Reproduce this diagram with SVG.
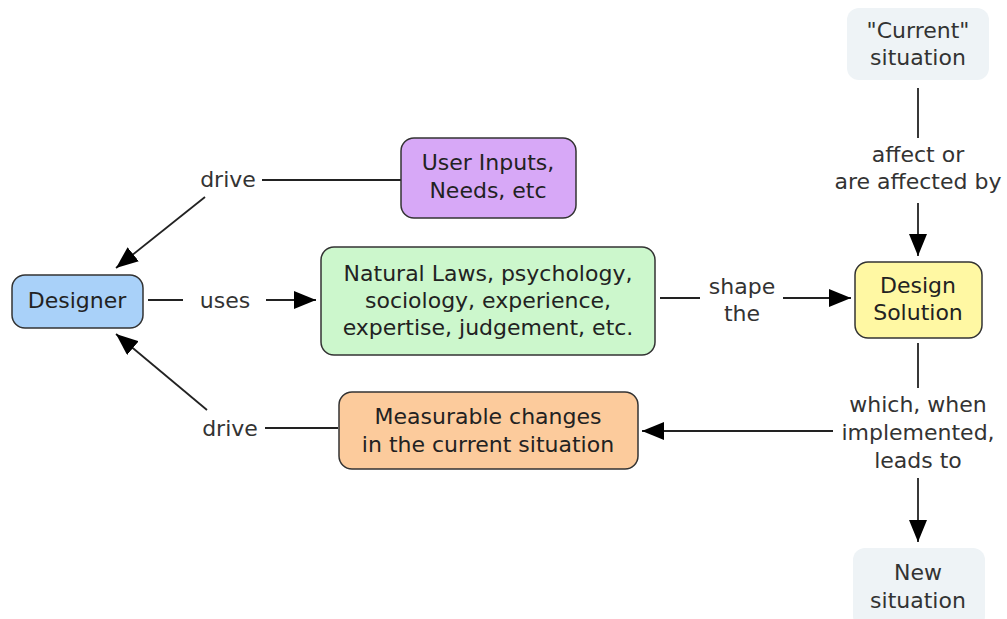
<svg xmlns="http://www.w3.org/2000/svg" width="1007" height="619" viewBox="0 0 1007 619">
  <style>
    .node { stroke: #333; stroke-width: 1.5; }
    .plain { stroke: none; fill: #eef3f6; }
    text { font-family: "DejaVu Sans", Verdana, sans-serif; font-size: 22px; text-anchor: middle; fill: #222; }
    .lbl { fill: #333; }
    .link { stroke: #222; stroke-width: 1.8; fill: none; }
  </style>
  <defs>
    <marker id="arrow" viewBox="0 0 22 18" refX="22" refY="9" markerWidth="22" markerHeight="18" markerUnits="userSpaceOnUse" orient="auto">
      <path d="M0,0 L22,9 L0,18 Z" fill="#000"/>
    </marker>
  </defs>
  <rect width="1007" height="619" fill="#fff"/>

  <g id="connectors">
    <!-- User Inputs -> drive -> Designer -->
    <line class="link" x1="401" y1="180" x2="262" y2="180"/>
    <text class="lbl" x="228" y="187">drive</text>
    <line class="link" x1="205" y1="197" x2="116" y2="268" marker-end="url(#arrow)"/>
    <!-- Designer -> uses -> Natural Laws -->
    <line class="link" x1="148" y1="300" x2="183" y2="300"/>
    <text class="lbl" x="225" y="308">uses</text>
    <line class="link" x1="266" y1="300" x2="316" y2="300" marker-end="url(#arrow)"/>
    <!-- Natural Laws -> shape the -> Design Solution -->
    <line class="link" x1="660" y1="298" x2="700" y2="298"/>
    <text class="lbl" x="742" y="294">shape</text>
    <text class="lbl" x="742" y="321">the</text>
    <line class="link" x1="783" y1="298" x2="851" y2="298" marker-end="url(#arrow)"/>
    <!-- Current situation -> affect or are affected by -> Design Solution -->
    <line class="link" x1="918" y1="88" x2="918" y2="138"/>
    <text class="lbl" x="918" y="162">affect or</text>
    <text class="lbl" x="918" y="189">are affected by</text>
    <line class="link" x1="918" y1="203" x2="918" y2="256" marker-end="url(#arrow)"/>
    <!-- Design Solution -> which, when implemented, leads to -->
    <line class="link" x1="918" y1="343" x2="918" y2="388"/>
    <text class="lbl" x="918" y="412">which, when</text>
    <text class="lbl" x="918" y="440">implemented,</text>
    <text class="lbl" x="918" y="468">leads to</text>
    <line class="link" x1="918" y1="478" x2="918" y2="542" marker-end="url(#arrow)"/>
    <line class="link" x1="833" y1="431" x2="642" y2="431" marker-end="url(#arrow)"/>
    <!-- Measurable changes -> drive -> Designer -->
    <line class="link" x1="338" y1="428" x2="265" y2="428"/>
    <text class="lbl" x="230" y="436">drive</text>
    <line class="link" x1="207" y1="410" x2="116" y2="334" marker-end="url(#arrow)"/>
  </g>

  <g id="designer">
    <rect class="node" x="12" y="275" width="131" height="53" rx="13" fill="#a9d1f9"/>
    <text x="77" y="308">Designer</text>
  </g>

  <g id="user-inputs">
    <rect class="node" x="401" y="138" width="175" height="80" rx="13" fill="#d7a8f7"/>
    <text x="488" y="170">User Inputs,</text>
    <text x="488" y="198">Needs, etc</text>
  </g>

  <g id="natural-laws">
    <rect class="node" x="321" y="247" width="334" height="108" rx="13" fill="#ccf7cc"/>
    <text x="488" y="281">Natural Laws, psychology,</text>
    <text x="488" y="308">sociology, experience,</text>
    <text x="488" y="335">expertise, judgement, etc.</text>
  </g>

  <g id="design-solution">
    <rect class="node" x="855" y="262" width="127" height="76" rx="13" fill="#fff8a3"/>
    <text x="918" y="293">Design</text>
    <text x="918" y="320">Solution</text>
  </g>

  <g id="measurable-changes">
    <rect class="node" x="339" y="392" width="299" height="77" rx="13" fill="#fccb9c"/>
    <text x="488" y="424">Measurable changes</text>
    <text x="488" y="452">in the current situation</text>
  </g>

  <g id="current-situation">
    <rect class="plain" x="847" y="8" width="142" height="72" rx="12"/>
    <text class="lbl" x="918" y="38">"Current"</text>
    <text class="lbl" x="918" y="65">situation</text>
  </g>

  <g id="new-situation">
    <rect class="plain" x="853" y="548" width="132" height="80" rx="12"/>
    <text class="lbl" x="918" y="580">New</text>
    <text class="lbl" x="918" y="608">situation</text>
  </g>
</svg>
